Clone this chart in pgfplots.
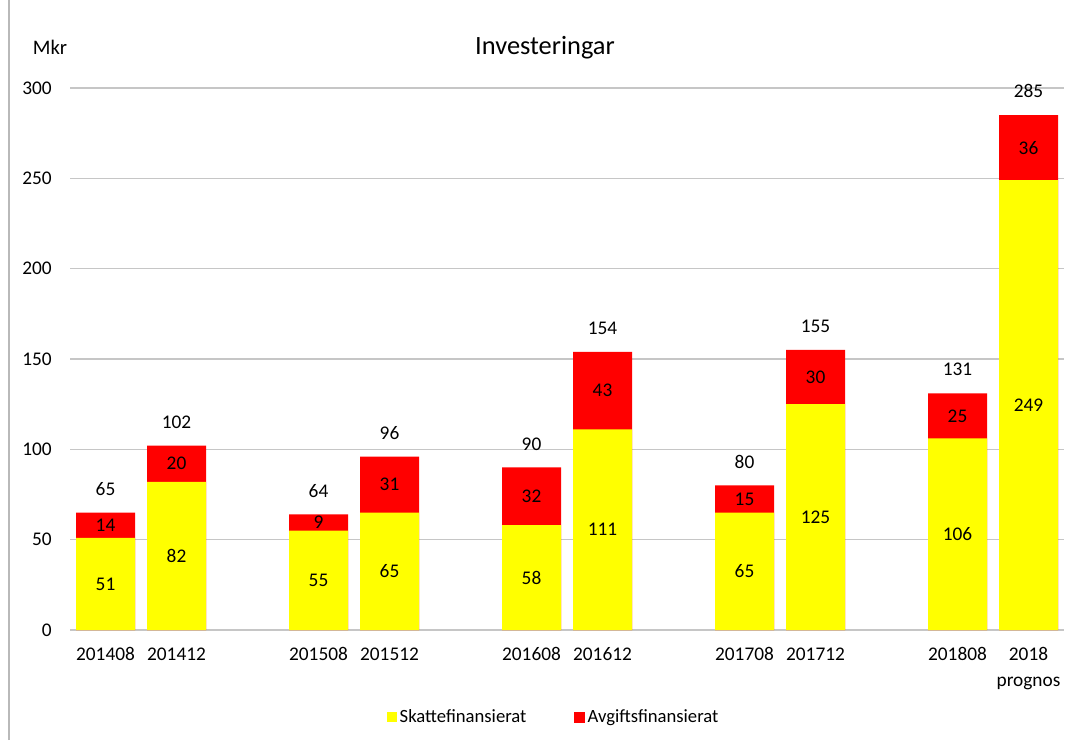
\documentclass[border=0pt]{standalone}
\usepackage{fontspec}
\setmainfont{Carlito}
\usepackage{pgfplots}
\usepackage{pgfplotstable}
\pgfplotsset{compat=1.18}
\definecolor{yl}{RGB}{255,255,0}
\definecolor{rd}{RGB}{255,0,0}

\pgfplotstableread{
x s a t
0 51 14 65
1 82 20 102
3 55 9 64
4 65 31 96
6 58 32 90
7 111 43 154
9 65 15 80
10 125 30 155
12 106 25 131
13 249 36 285
}\data

\newcommand{\lblfont}{\fontsize{14.5}{19.5}\selectfont}

\begin{document}
\begin{tikzpicture}
\useasboundingbox (0,0) rectangle (802.5pt,555pt);
\draw[gray!55, line width=0.8pt] (6.75pt,0) -- (6.75pt,555pt);
\node[font=\fontsize{19.8}{23}\selectfont] at (408.75pt,519.5pt) {Investeringar};
\node[font=\fontsize{15.5}{18}\selectfont] at (37.5pt,519.5pt) {Mkr};
\begin{axis}[
  at={(52.5pt,82.5pt)}, anchor=south west,
  scale only axis, width=745.5pt, height=406.5pt,
  xmin=-0.5, xmax=13.5, ymin=0, ymax=300,
  ytick={0,50,...,300},
  xtick={0,1,3,4,6,7,9,10,12,13},
  xticklabels={201408,201412,201508,201512,201608,201612,201708,201712,201808,{2018\\prognos}},
  /pgf/number format/assume math mode=true,
  major tick length=0pt,
  axis line style={draw=none},
  ymajorgrids, grid style={gray!45, line width=0.8pt},
  tick label style={font=\lblfont},
  yticklabel style={anchor=east, inner sep=0pt, xshift=-13.5pt},
  xticklabel style={anchor=north, inner sep=0pt, yshift=-13pt, align=center},
  legend style={at={(0.487,-0.1605)}, anchor=center, draw=none, fill=none,
    legend columns=2, font=\fontsize{14}{16}\selectfont,
    /tikz/every even column/.append style={column sep=34pt}},
  legend cell align=left,
]
\addplot[ybar, bar width=44.25pt, bar shift=0pt, fill=rd, draw=none, forget plot]
  table[x=x, y=t] {\data};
\addplot[ybar, bar width=44.25pt, bar shift=0pt, fill=yl, draw=none,
  legend image code/.code={\fill[yl] (0pt,-3.75pt) rectangle (7.5pt,3.75pt);}]
  table[x=x, y=s] {\data};
\addlegendentry{Skattefinansierat}
\addlegendimage{legend image code/.code={\fill[rd] (0pt,-3.75pt) rectangle (7.5pt,3.75pt);}}
\addlegendentry{Avgiftsfinansierat}
% labels
\addplot[draw=none, mark=none, forget plot, nodes near coords, point meta=explicit,
  nodes near coords style={anchor=center, font=\lblfont, text=black}]
  table[x=x, y expr=\thisrow{s}/2, meta=s] {\data};
\addplot[draw=none, mark=none, forget plot, nodes near coords, point meta=explicit,
  nodes near coords style={anchor=center, font=\lblfont, text=black}]
  table[x=x, y expr=\thisrow{s}+\thisrow{a}/2, meta=a] {\data};
\addplot[draw=none, mark=none, forget plot, nodes near coords, point meta=explicit,
  nodes near coords style={anchor=base, yshift=13pt, font=\lblfont, text=black}]
  table[x=x, y=t, meta=t] {\data};
\end{axis}
\end{tikzpicture}
\end{document}
